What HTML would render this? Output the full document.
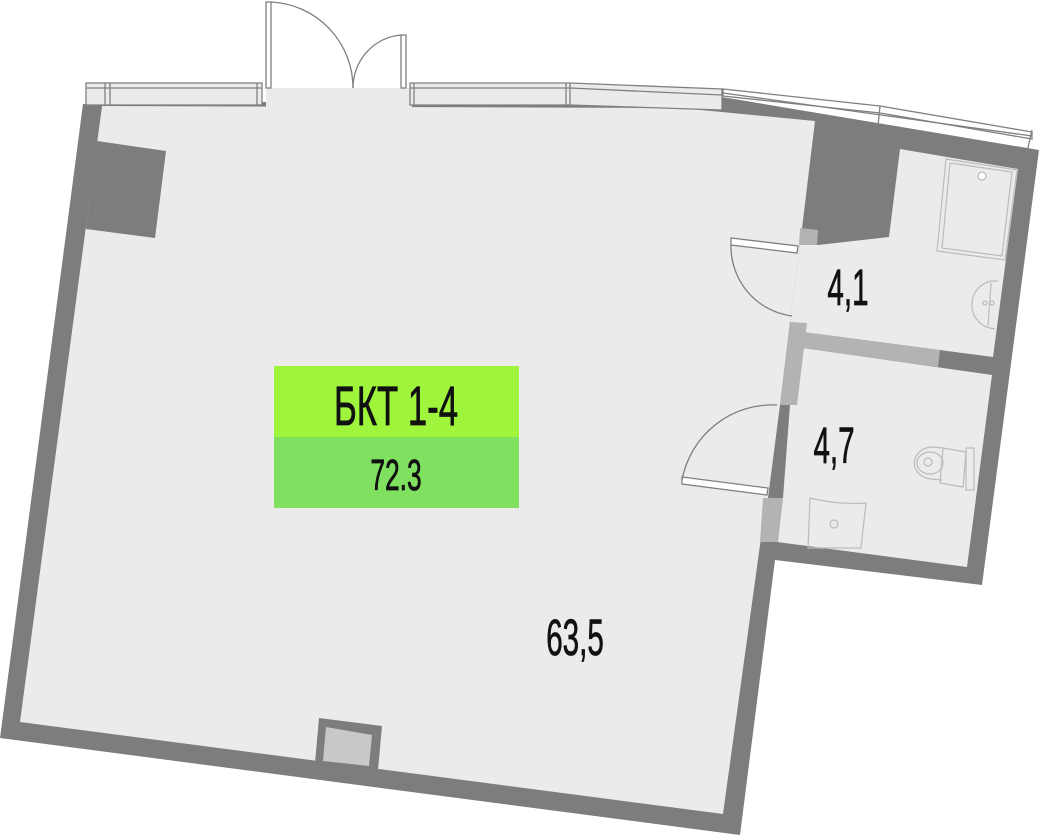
<!DOCTYPE html>
<html><head><meta charset="utf-8"><style>
html,body{margin:0;padding:0;background:#fff;width:1039px;height:835px;overflow:hidden}
svg{display:block}
text{font-family:"Liberation Sans",sans-serif;fill:#111;stroke:#111;stroke-width:0.8}
</style></head><body>
<svg width="1039" height="835" viewBox="0 0 1039 835" xmlns="http://www.w3.org/2000/svg">
<polygon points="83,104 722,97 1039,150 982,585 775,560 740,835 0,738" fill="#7d7d7d"/>
<polygon points="102,106 680,108 815,121 800,245 790,322 780,405 768,498 760,545 723,814 20,722" fill="#ebebeb"/>
<polygon points="889,237 900,149 1018,169 993,357 803,332 790,322 800,245 818,245" fill="#ebebeb"/>
<polygon points="803,348 992,375 967,567 777,542 783,498 790,405" fill="#ebebeb"/>
<rect x="266" y="88" width="146" height="20" fill="#ebebeb"/>
<polygon points="97,141 166,151 155,238 86,229" fill="#7d7d7d"/>
<polygon points="83,104 102,106 97,142 86,229 83,104" fill="#7d7d7d"/>
<polygon points="800,228 818,230 817,245 799,245" fill="#b3b3b3"/>
<polygon points="790,322 807,323 797,405 780,405" fill="#b3b3b3"/>
<polygon points="803,332 940,350 938,367 803,348" fill="#b3b3b3"/>
<polygon points="763,498 783,498 778,542 760,542" fill="#b3b3b3"/>
<polygon points="319,718 382,726 378,770 315,763" fill="#7d7d7d"/>
<polygon points="326,727 372,735 369,766 323,761" fill="#c8c8c8"/>
<g stroke="#808080" stroke-width="1.3" fill="none">
<rect x="86" y="83" width="176" height="22" fill="#ebebeb"/>
<line x1="86" y1="88" x2="262" y2="88"/>
<line x1="105" y1="83" x2="105" y2="105"/><line x1="110" y1="83" x2="110" y2="105"/>
<line x1="257" y1="83" x2="257" y2="105"/>
<polygon points="410,83 570,83 722,89 722,110 570,105 410,105" fill="#ebebeb"/>
<line x1="410" y1="88" x2="570" y2="88"/><line x1="570" y1="88" x2="722" y2="95"/>
<line x1="414" y1="83" x2="414" y2="105"/>
<line x1="566" y1="83" x2="566" y2="105"/><line x1="570" y1="83" x2="570" y2="105"/>
<polygon points="723,89 880,106 1032,132 1032,139 880,113 723,96" fill="#fff"/>
<line x1="723" y1="93" x2="1032" y2="136"/>
<line x1="880" y1="106" x2="878" y2="126"/>
<line x1="1032" y1="130" x2="1027" y2="152"/>
<rect x="266" y="2" width="5" height="86" fill="#fff"/>
<path d="M271,2 A86,86 0 0 1 353,88"/>
<rect x="401" y="35" width="5" height="53" fill="#fff"/>
<path d="M401,35 A52,53 0 0 0 353,88"/>
<polygon points="731,238 798,246 797,253 731,245" fill="#fff"/>
<path d="M731,245 A70,70 0 0 0 792,316"/>
<polygon points="682,477 768,488 767,495 682,484" fill="#fff"/>
<path d="M682,480 A92,92 0 0 1 777,405"/>
</g>
<g stroke="#bbb" stroke-width="1.2" fill="none">
<polygon points="946,159 1017,170 1005,260 937,251"/>
<polygon points="950,163 1012,172 1002,256 942,248"/>
<circle cx="982" cy="176" r="4" fill="#fff"/>
<path d="M998,281 L992,281 A24,24 0 0 0 990,328 L995,329"/>
<path d="M991,283 L988,326"/>
<circle cx="985" cy="303" r="2"/><circle cx="992" cy="303" r="2"/>
<path d="M943,448 L933,447 A17,15 0 0 0 932,479 L942,480"/>
<ellipse cx="930" cy="463" rx="13" ry="11"/>
<circle cx="928" cy="462" r="4"/>
<polygon points="943,448 966,452 963,487 940,483"/>
<rect x="966" y="448" width="8" height="42"/>
<path d="M810,498 Q838,505 866,503 L861,548 L808,548 Z"/>
<circle cx="834" cy="524" r="4"/>
</g>
<rect x="274" y="366" width="245" height="71" fill="#9ef53b"/>
<rect x="274" y="437" width="245" height="71" fill="#80e060"/>
<text x="396" y="425" font-size="56" text-anchor="middle" transform="translate(396 0) scale(0.62 1) translate(-396 0)">БКТ 1-4</text>
<text x="396" y="490" font-size="44" text-anchor="middle" transform="translate(396 0) scale(0.6 1) translate(-396 0)">72.3</text>
<text x="575" y="655" font-size="51" text-anchor="middle" transform="translate(575 0) scale(0.58 1) translate(-575 0)">63,5</text>
<text x="848" y="305" font-size="51" text-anchor="middle" transform="translate(848 0) scale(0.58 1) translate(-848 0)">4,1</text>
<text x="834" y="463" font-size="51" text-anchor="middle" transform="translate(834 0) scale(0.58 1) translate(-834 0)">4,7</text>
</svg>
</body></html>
